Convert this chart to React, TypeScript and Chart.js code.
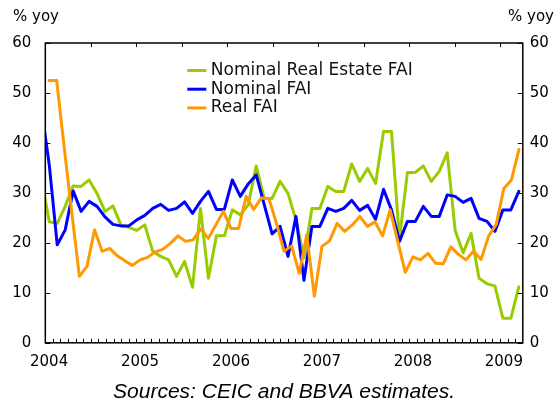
import React, { useEffect, useRef } from 'react';
import { Chart, registerables } from 'chart.js';

Chart.register(...registerables);

// ---- data ----
const yearLabels = ['2004', '2005', '2006', '2007', '2008', '2009'];
const yTickValues = [0, 10, 20, 30, 40, 50, 60];
const seriesLabels = ['Nominal Real Estate FAI', 'Nominal FAI', 'Real FAI'];
const seriesColors = ['#99CC00', '#0000FF', '#FF9900'];
const axisTitle = '% yoy';
const sourceNote = 'Sources: CEIC and BBVA estimates.';

// Real FAI, monthly Jan 2004 .. Mar 2009 (primary category axis)
const realFAI = [
  52.5, 52.5, 39.0, 26.0, 13.3, 15.3, 22.6, 18.3, 18.9, 17.4, 16.4, 15.5,
  16.6, 17.1, 18.2, 18.7, 19.9, 21.4, 20.3, 20.6, 22.8, 20.9, 23.6, 26.3,
  22.9, 22.9, 29.3, 26.7, 29.0, 28.9, 23.9, 18.3, 19.4, 13.9, 21.6, 9.3,
  19.3, 20.4, 23.9, 22.3, 23.6, 25.3, 23.3, 24.2, 21.4, 26.6, 20.3, 14.1,
  17.2, 16.6, 17.9, 15.9, 15.8, 19.2, 17.7, 16.6, 18.3, 16.7, 21.4, 23.7,
  30.9, 32.6, 38.7,
];
const realStartMonth = 0; // Jan 2004

// Nominal series, monthly Mar 2004 .. Mar 2009 (secondary category axis)
const nominalFAI = [
  47.0, 35.6, 19.6, 22.6, 30.4, 26.3, 28.3, 27.3, 25.2, 23.7, 23.4, 23.4,
  24.6, 25.5, 26.9, 27.7, 26.5, 26.9, 28.2, 25.9, 28.3, 30.3, 26.7, 26.7,
  32.6, 29.3, 31.8, 33.6, 27.7, 21.8, 23.3, 17.3, 25.3, 12.5, 23.3, 23.3,
  26.9, 26.3, 26.9, 28.5, 26.5, 27.5, 24.7, 30.7, 26.6, 20.3, 24.3, 24.3,
  27.3, 25.3, 25.3, 29.6, 29.3, 28.1, 28.9, 24.9, 24.3, 22.3, 26.6, 26.6, 30.3,
];
const nominalRealEstateFAI = [
  33.0, 24.2, 23.9, 27.3, 31.4, 31.3, 32.6, 29.9, 26.3, 27.4, 23.6, 23.1,
  22.5, 23.6, 18.3, 17.3, 16.6, 13.3, 16.3, 11.1, 26.9, 12.9, 21.4, 21.4,
  26.6, 25.6, 27.6, 35.4, 28.9, 28.9, 32.3, 29.9, 24.5, 17.0, 26.9, 26.9,
  31.3, 30.3, 30.3, 35.8, 32.3, 34.9, 31.9, 42.3, 42.3, 20.8, 34.1, 34.1,
  35.4, 32.3, 34.3, 38.0, 22.5, 18.0, 21.9, 12.9, 11.8, 11.4, 4.9, 4.9, 11.2,
];
const nominalStartMonth = 2; // Mar 2004

const FONT = '"DejaVu Sans", Verdana, sans-serif';

const framePlugin = {
  id: 'frameAndLegend',
  afterDatasetsDraw(chart: any) {
    const { ctx, chartArea: a, scales } = chart;
    const xs = scales.x;
    const ys = scales.y;
    ctx.save();
    ctx.strokeStyle = '#000';
    ctx.lineWidth = 1.5;
    ctx.strokeRect(a.left, a.top, a.right - a.left, a.bottom - a.top);
    ctx.lineWidth = 1;
    ctx.beginPath();
    yTickValues.forEach((v) => {
      const y = Math.round(ys.getPixelForValue(v)) + 0.5;
      ctx.moveTo(a.left, y);
      ctx.lineTo(a.left + 5, y);
      ctx.moveTo(a.right - 5, y);
      ctx.lineTo(a.right, y);
    });
    const n = realFAI.length;
    for (let k = 1; k < n; k++) {
      const x = Math.round(xs.getPixelForValue(k - 0.5)) + 0.5;
      ctx.moveTo(x, a.bottom);
      ctx.lineTo(x, a.bottom - 4);
    }
    for (let k = 6; k < n; k += 6) {
      const x = Math.round(xs.getPixelForValue(k - 0.5)) + 0.5;
      ctx.moveTo(x, a.top);
      ctx.lineTo(x, a.top + 4);
    }
    ctx.stroke();

    // axis unit titles
    ctx.fillStyle = '#000';
    ctx.font = '15px ' + FONT;
    ctx.textBaseline = 'middle';
    ctx.textAlign = 'left';
    ctx.fillText(axisTitle, 13, 17);
    ctx.textAlign = 'right';
    ctx.fillText(axisTitle, 554, 17);

    // legend
    ctx.font = '17px ' + FONT;
    ctx.textAlign = 'left';
    chart.data.datasets.forEach((ds: any, i: number) => {
      const y = a.top + 27.5 + i * 18.7;
      ctx.strokeStyle = ds.borderColor;
      ctx.lineWidth = 3;
      ctx.beginPath();
      ctx.moveTo(a.left + 142, y);
      ctx.lineTo(a.left + 161, y);
      ctx.stroke();
      ctx.fillStyle = '#111';
      ctx.fillText(ds.label, a.left + 165.5, y);
    });
    ctx.restore();
  },
};

export default function App() {
  const ref = useRef<HTMLCanvasElement | null>(null);
  useEffect(() => {
    if (!ref.current) return;
    const toPoints = (vals: number[], start: number) =>
      vals.map((v, i) => ({ x: start + i, y: v }));
    const common = {
      borderWidth: 3,
      pointRadius: 0,
      tension: 0,
      fill: false,
      borderJoinStyle: 'round' as const,
      borderCapStyle: 'round' as const,
      clip: 0,
    };
    const chart = new Chart(ref.current, {
      type: 'line',
      data: {
        datasets: [
          {
            ...common,
            label: seriesLabels[0],
            data: toPoints(nominalRealEstateFAI, nominalStartMonth),
            borderColor: seriesColors[0],
            xAxisID: 'x2',
            yAxisID: 'y',
            order: 3,
          },
          {
            ...common,
            label: seriesLabels[1],
            data: toPoints(nominalFAI, nominalStartMonth),
            borderColor: seriesColors[1],
            xAxisID: 'x2',
            yAxisID: 'y',
            order: 2,
          },
          {
            ...common,
            label: seriesLabels[2],
            data: toPoints(realFAI, realStartMonth),
            borderColor: seriesColors[2],
            xAxisID: 'x',
            yAxisID: 'y',
            order: 1,
          },
        ],
      },
      options: {
        responsive: false,
        animation: false,
        devicePixelRatio: 1,
        layout: { padding: { top: 43, left: 0, right: 0, bottom: 0 } },
        font: { family: FONT },
        plugins: {
          legend: { display: false },
          tooltip: { enabled: false },
          title: {
            display: true,
            text: sourceNote,
            position: 'bottom',
            fullSize: false,
            color: '#000',
            font: { family: '"Liberation Sans", Arial, sans-serif', size: 21, style: 'italic', weight: 'normal', lineHeight: 1 },
            padding: { top: 0, bottom: 0 },
          },
        },
        scales: {
          x: {
            type: 'linear',
            position: 'bottom',
            min: -0.5,
            max: realFAI.length - 0.5,
            grid: { display: false, drawTicks: false },
            border: { display: false },
            afterFit: (s: any) => { s.height = 39.2; },
            afterBuildTicks: (s: any) => {
              s.ticks = yearLabels.map((_, i) => ({ value: i * 12 }));
            },
            ticks: {
              autoSkip: false,
              maxRotation: 0,
              padding: 10,
              color: '#000',
              font: { family: FONT, size: 15 },
              callback: (_v: any, i: number) => yearLabels[i],
            },
          },
          x2: {
            type: 'linear',
            display: false,
            min: nominalStartMonth + 0.5,
            max: realFAI.length - 0.5,
          },
          y: {
            type: 'linear',
            position: 'left',
            min: 0,
            max: 60,
            grid: { display: false, drawTicks: false },
            border: { display: false },
            afterFit: (s: any) => { s.width = 45.3; },
            afterBuildTicks: (s: any) => { s.ticks = yTickValues.map((v) => ({ value: v })); },
            ticks: { padding: 14, color: '#000', font: { family: FONT, size: 15 } },
          },
          y2: {
            type: 'linear',
            position: 'right',
            min: 0,
            max: 60,
            grid: { display: false, drawTicks: false },
            border: { display: false },
            afterFit: (s: any) => { s.width = 32.2; },
            afterBuildTicks: (s: any) => { s.ticks = yTickValues.map((v) => ({ value: v })); },
            ticks: { padding: 7, color: '#000', font: { family: FONT, size: 15 } },
          },
        },
      },
      plugins: [framePlugin],
    });
    return () => chart.destroy();
  }, []);
  return (
    <div style={{ position: 'absolute', left: 0, top: 0, width: 555, height: 403, background: '#fff' }}>
      <canvas ref={ref} width={555} height={403} style={{ display: 'block' }} />
    </div>
  );
}
